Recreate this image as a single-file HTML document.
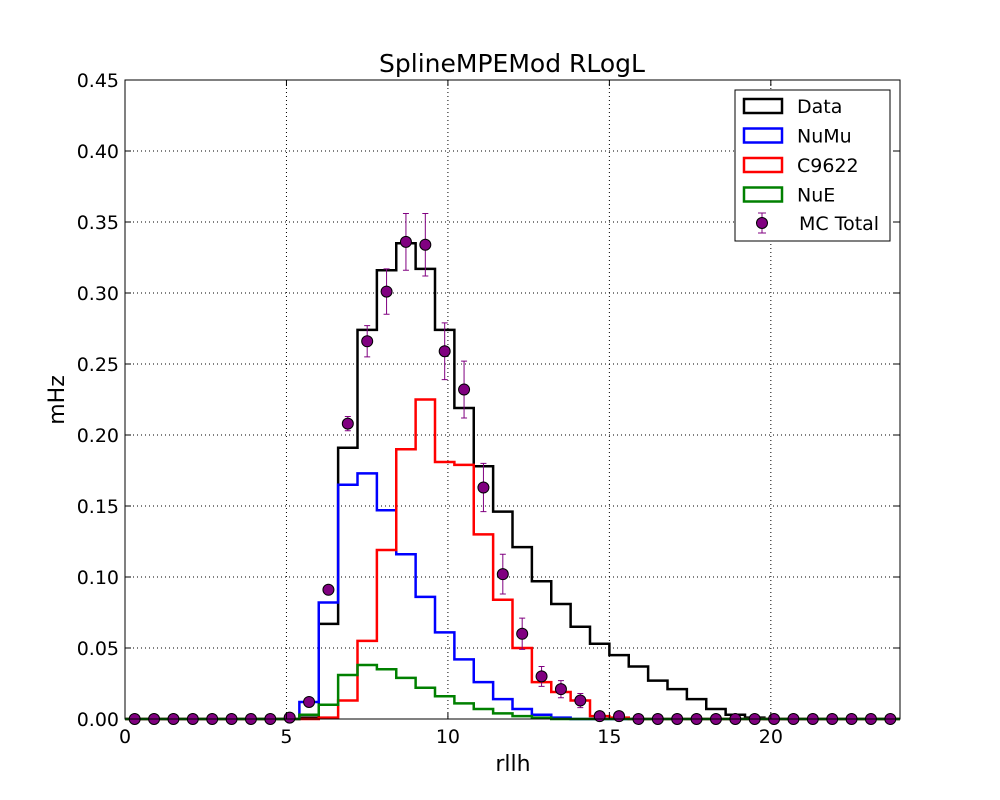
<!DOCTYPE html>
<html><head><meta charset="utf-8"><style>body{margin:0;background:#fff}svg{display:block;font-family:"DejaVu Sans","Liberation Sans",sans-serif}</style></head>
<body>
<svg id="c" width="1000" height="800">
<rect width="1000" height="800" fill="#fff"/>
</svg>
<script>
const binWidth=0.6;
const dataVals=[0,0,0,0,0,0,0,0,0,0.001,0.067,0.191,0.274,0.316,0.335,0.317,0.274,0.219,0.178,0.146,0.121,0.097,0.081,0.065,0.053,0.045,0.037,0.027,0.021,0.014,0.007,0.003,0.001,0,0,0,0,0,0,0];
const numuVals=[0,0,0,0,0,0,0,0,0,0.012,0.082,0.165,0.173,0.147,0.116,0.086,0.061,0.042,0.026,0.014,0.007,0.003,0.001,0,0,0,0,0,0,0,0,0,0,0,0,0,0,0,0,0];
const c9622Vals=[0,0,0,0,0,0,0,0,0,0,0.001,0.013,0.055,0.119,0.190,0.225,0.181,0.179,0.130,0.084,0.050,0.026,0.019,0.013,0.002,0.001,0,0,0,0,0,0,0,0,0,0,0,0,0,0];
const nueVals=[0,0,0,0,0,0,0,0,0,0.003,0.010,0.031,0.038,0.035,0.029,0.022,0.016,0.011,0.007,0.004,0.002,0.001,0,0,0,0,0,0,0,0,0,0,0,0,0,0,0,0,0,0];
const mcVals=[0,0,0,0,0,0,0,0,0.001,0.012,0.091,0.208,0.266,0.301,0.336,0.334,0.259,0.232,0.163,0.102,0.060,0.030,0.021,0.013,0.002,0.002,0,0,0,0,0,0,0,0,0,0,0,0,0,0];
const mcErr=[0,0,0,0,0,0,0,0,0,0.002,0.003,0.005,0.011,0.016,0.020,0.022,0.020,0.020,0.017,0.014,0.011,0.007,0.006,0.005,0.001,0.001,0,0,0,0,0,0,0,0,0,0,0,0,0,0];
const xTicks=[0,5,10,15,20];
const yTicks=[0,0.05,0.10,0.15,0.20,0.25,0.30,0.35,0.40,0.45];

const L=125,R=900,T=80,B=719,XMAX=24,YMAX=0.45;
const X=v=>L+(R-L)*v/XMAX, Y=v=>B-(B-T)*v/YMAX;
const svg=document.getElementById('c'),NS='http://www.w3.org/2000/svg';
function mk(tag,at,parent){const e=document.createElementNS(NS,tag);for(const k in at)e.setAttribute(k,at[k]);(parent||svg).appendChild(e);return e;}
function txt(s,at){const e=mk('text',at);e.textContent=s;return e;}

xTicks.forEach(t=>{if(t>0){const g=mk('line',{x1:X(t),x2:X(t),y1:T,y2:B,stroke:'#000','stroke-dasharray':'1,3','stroke-width':1});

}});
yTicks.forEach(t=>{if(t>0&&t<YMAX){const g=mk('line',{x1:L,x2:R,y1:Y(t),y2:Y(t),stroke:'#000','stroke-dasharray':'1,3','stroke-width':1});

}});

function step(vals,color,name){let d='M'+X(0)+','+Y(0);vals.forEach((v,i)=>{d+=' L'+X(i*binWidth)+','+Y(v)+' L'+X((i+1)*binWidth)+','+Y(v);});
d+=' L'+X(vals.length*binWidth)+','+Y(0);
const p=mk('path',{d:d,fill:'none',stroke:color,'stroke-width':2.5});

}
step(dataVals,'#000','data-histogram');
step(numuVals,'#0000ff','numu-histogram');
step(c9622Vals,'#ff0000','c9622-histogram');
step(nueVals,'#008000','nue-histogram');

mcVals.forEach((v,i)=>{const cx=X((i+0.5)*binWidth),e=mcErr[i];
if(e>0){const g=mk('path',{d:`M${cx},${Y(v-e)}V${Y(v+e)}M${cx-3},${Y(v-e)}h6M${cx-3},${Y(v+e)}h6`,stroke:'#800080','stroke-width':1,fill:'none'});

}
const c=mk('circle',{cx:cx,cy:Y(v),r:5.5,fill:'#800080',stroke:'#000','stroke-width':1});

});

const fr=mk('rect',{x:L,y:T,width:R-L,height:B-T,fill:'none',stroke:'#000','stroke-width':1});



xTicks.forEach(t=>{mk('line',{x1:X(t),x2:X(t),y1:B,y2:B-6,stroke:'#000'});mk('line',{x1:X(t),x2:X(t),y1:T,y2:T+6,stroke:'#000'});
const l=txt(String(t),{x:X(t),y:B+24,'text-anchor':'middle','font-size':19});

});
yTicks.forEach(t=>{mk('line',{x1:L,x2:L+6,y1:Y(t),y2:Y(t),stroke:'#000'});mk('line',{x1:R,x2:R-6,y1:Y(t),y2:Y(t),stroke:'#000'});
const l=txt(t.toFixed(2),{x:L-6,y:Y(t)+7,'text-anchor':'end','font-size':19});

});

let e=txt('SplineMPEMod RLogL',{x:512,y:72,'text-anchor':'middle','font-size':25});


e=txt('rllh',{x:513,y:771,'text-anchor':'middle','font-size':22});


e=txt('mHz',{x:64,y:400,'text-anchor':'middle','font-size':22,transform:'rotate(-90 64 400)'});



const lg=mk('rect',{x:735,y:90,width:155,height:151,fill:'#fff',stroke:'#000'});


const entries=[['Data','#000'],['NuMu','#0000ff'],['C9622','#ff0000'],['NuE','#008000']];
entries.forEach((en,i)=>{const y=106+i*29.5;
const r=mk('rect',{x:744,y:y-7,width:38,height:14,fill:'none',stroke:en[1],'stroke-width':2.5});


const t=txt(en[0],{x:797,y:y+7,'font-size':19});

});
mk('path',{d:'M762,213V233M758,213h8M758,233h8',stroke:'#800080',fill:'none'});
mk('circle',{cx:762,cy:223,r:5.5,fill:'#800080',stroke:'#000'});
e=txt('MC Total',{x:799,y:230,'font-size':19});


</script>
</body></html>
